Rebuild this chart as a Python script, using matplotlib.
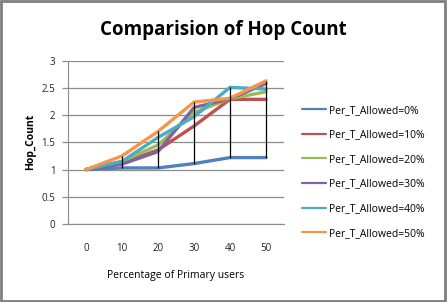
import numpy as np
import matplotlib.pyplot as plt
from matplotlib.patches import Rectangle

plt.rcParams['font.family'] = ['Open Sans', 'DejaVu Sans']

categories = ['0', '10', '20', '30', '40', '50']
series_labels = ['Per_T_Allowed=0%', 'Per_T_Allowed=10%', 'Per_T_Allowed=20%',
                 'Per_T_Allowed=30%', 'Per_T_Allowed=40%', 'Per_T_Allowed=50%']
allowed_0 = [1.0, 1.03, 1.03, 1.11, 1.22, 1.22]
allowed_10 = [1.0, 1.12, 1.36, 1.80, 2.29, 2.29]
allowed_20 = [1.0, 1.15, 1.45, 2.05, 2.30, 2.43]
allowed_30 = [1.0, 1.10, 1.33, 2.14, 2.30, 2.58]
allowed_40 = [1.0, 1.15, 1.59, 1.97, 2.51, 2.48]
allowed_50 = [1.0, 1.25, 1.70, 2.24, 2.31, 2.63]
colours = ['#4F81BD', '#C0504D', '#9BBB59', '#8064A2', '#4BACC6', '#F79646']

W, H = 447, 302
fig = plt.figure(figsize=(W / 100, H / 100), dpi=100)
ax = fig.add_axes([68 / W, (H - 224) / H, 216 / W, (224 - 60.7) / H])

x = np.arange(len(categories))
all_series = [allowed_0, allowed_10, allowed_20, allowed_30, allowed_40, allowed_50]
for s, c, lab in zip(all_series, colours, series_labels):
    ax.plot(x, s, color=c, lw=2.4, label=lab, solid_capstyle='round')

# high-low lines like excel
arr = np.array(all_series)
lo = arr.min(axis=0)
hi = arr.max(axis=0)
ax.vlines(x, lo, hi, color='black', lw=0.9, zorder=5)

ax.set_xlim(-0.5, len(categories) - 0.5)
ax.set_ylim(0, 3)
ax.set_xticks(x)
ax.set_xticklabels(categories)
yt = [0, 0.5, 1, 1.5, 2, 2.5, 3]
ax.set_yticks(yt)
ax.set_yticklabels(['0', '0.5', '1', '1.5', '2', '2.5', '3'])
ax.tick_params(axis='x', length=0, labelsize=7, colors='#222222', pad=14)
ax.tick_params(axis='y', length=4, width=0.9, color='#8c8c8c', labelsize=7,
               labelcolor='#222222', pad=5)
ax.grid(axis='y', color='#8c8c8c', lw=0.9)
ax.set_axisbelow(True)
for side in ['top', 'right']:
    ax.spines[side].set_visible(False)
ax.spines['left'].set_color('#8c8c8c')
ax.spines['bottom'].set_color('#8c8c8c')

ax.set_xlabel('Percentage of Primary users', fontsize=7.5, labelpad=11)
ax.set_ylabel('Hop_Count', fontsize=7.5, fontweight='bold', labelpad=4)
fig.text(223 / W, 1 - 30 / H, 'Comparision of Hop Count', fontsize=13.5,
         fontweight='bold', ha='center', va='center')

leg = fig.legend(loc='upper left', bbox_to_anchor=(302 / W, 1 - 105 / H),
                 frameon=False, fontsize=7.5, handlelength=2.3, handletextpad=0.3,
                 labelspacing=1.3, borderpad=0, borderaxespad=0)
for ln in leg.get_lines():
    ln.set_linewidth(1.6)

fig.patches.append(Rectangle((0.002, 0.003), 0.994, 0.993, transform=fig.transFigure,
                             fill=False, edgecolor='#7f7f7f', lw=2))

fig.savefig('out.png', dpi=100)
